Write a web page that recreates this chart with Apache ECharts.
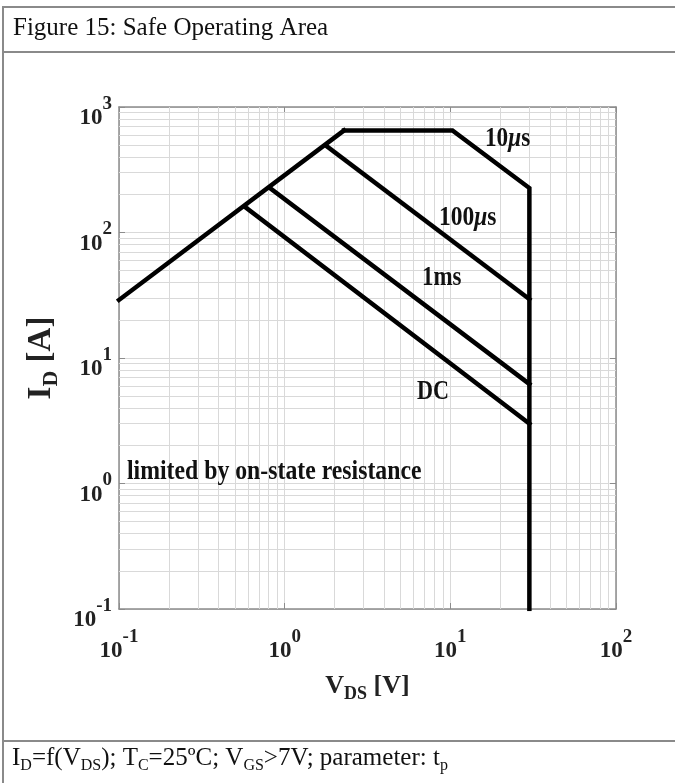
<!DOCTYPE html>
<html>
<head>
<meta charset="utf-8">
<title>Figure 15: Safe Operating Area</title>
<script src="https://cdn.jsdelivr.net/npm/echarts@6.0.0/dist/echarts.min.js"></script>
<style>
  html, body { margin: 0; padding: 0; background: #fff; }
  #chart { width: 675px; height: 783px; }
</style>
</head>
<body>
<div id="chart"></div>
<script>
// Drain current limits, [V_DS (V), I_D (A)]
const rdsOnLimit = [[0.1, 29], [2.28, 650]];
const tp10us = [[2.28, 650], [10.3, 650], [30, 226], [30, 0.1]];
const tp100us = [[1.78, 490], [30, 29.4]];
const tp1ms = [[0.815, 226], [30, 6.2]];
const tpDC = [[0.575, 160], [30, 3.0]];

// Axis ranges (decades)
const xRange = [0.1, 100];
const yRange = [0.1, 1000];

// Minor log grid multipliers
const minorSteps = [2, 3, 4, 5, 6, 7, 8, 9];

const FONT = '"Liberation Serif", "Times New Roman", serif';
const GRID_COLOR = '#d9d9d9';
const FRAME_COLOR = '#8c8c8c';

function minorValues(lo, hi) {
  const out = [];
  for (let d = lo; d < hi; d *= 10) {
    minorSteps.forEach(m => out.push(+(d * m).toPrecision(6)));
  }
  return out;
}

function powerLabel(v) {
  const e = Math.round(Math.log10(v));
  return '{b|10}{s|' + e + '}';
}

// Tall line box: "10" hugs the bottom, the exponent sits in the middle
const TICK_LINE = 52;
const tickRich = {
  b: { fontFamily: FONT, fontWeight: 'bold', fontSize: 23, color: '#222', lineHeight: TICK_LINE, verticalAlign: 'bottom' },
  s: { fontFamily: FONT, fontWeight: 'bold', fontSize: 19, color: '#222', lineHeight: TICK_LINE, verticalAlign: 'middle' }
};

function nameRich(size, subSize) {
  return {
    m: { fontFamily: FONT, fontWeight: 'bold', fontSize: size, color: '#222', lineHeight: size + 8, verticalAlign: 'middle' },
    sub: { fontFamily: FONT, fontWeight: 'bold', fontSize: subSize, color: '#222', lineHeight: size + 8, verticalAlign: 'bottom' }
  };
}

const curveStyle = { color: '#000', width: 4.5, cap: 'square', join: 'miter' };

function curve(name, data) {
  return {
    name: name,
    type: 'line',
    data: data,
    symbol: 'none',
    lineStyle: curveStyle,
    z: 5,
    silent: true,
    animation: false
  };
}

const chart = echarts.init(document.getElementById('chart'), null, { renderer: 'canvas' });

const option = {
  backgroundColor: '#fff',
  animation: false,
  grid: { left: 119, right: 59, top: 107, bottom: 174, outerBoundsMode: 'none', containLabel: false },
  xAxis: [
    {
      type: 'log', logBase: 10, min: xRange[0], max: xRange[1],
      name: '{m|V}{sub|DS}{m| [V]}',
      nameLocation: 'middle', nameGap: 60,
      nameTextStyle: { rich: nameRich(26, 18) },
      axisLine: { lineStyle: { color: FRAME_COLOR, width: 1.5 } },
      axisTick: { inside: true, length: 6, lineStyle: { color: FRAME_COLOR } },
      axisLabel: { formatter: powerLabel, rich: tickRich, margin: 2 },
      splitLine: { show: true, lineStyle: { color: GRID_COLOR, width: 1 } }
    },
    {
      type: 'log', logBase: 10, min: xRange[0], max: xRange[1], position: 'top',
      axisLine: { lineStyle: { color: FRAME_COLOR, width: 1.5 } },
      axisTick: { inside: true, length: 6, lineStyle: { color: FRAME_COLOR } },
      axisLabel: { show: false },
      splitLine: { show: false }
    }
  ],
  yAxis: [
    {
      type: 'log', logBase: 10, min: yRange[0], max: yRange[1],
      name: '{m|I}{sub|D}{m| [A]}',
      nameLocation: 'middle', nameGap: 48, nameRotate: 90,
      nameTextStyle: { rich: nameRich(33, 22) },
      axisLine: { lineStyle: { color: FRAME_COLOR, width: 1.5 } },
      axisTick: { inside: true, length: 6, lineStyle: { color: FRAME_COLOR } },
      axisLabel: { formatter: powerLabel, rich: tickRich, margin: 7, padding: [0, 0, 6, 0] },
      splitLine: { show: true, lineStyle: { color: GRID_COLOR, width: 1 } }
    },
    {
      type: 'log', logBase: 10, min: yRange[0], max: yRange[1], position: 'right',
      axisLine: { lineStyle: { color: FRAME_COLOR, width: 1.5 } },
      axisTick: { inside: true, length: 6, lineStyle: { color: FRAME_COLOR } },
      axisLabel: { show: false },
      splitLine: { show: false }
    }
  ],
  series: [
    {
      name: 'minor grid',
      type: 'line',
      data: [],
      z: 1,
      silent: true,
      markLine: {
        silent: true,
        symbol: ['none', 'none'],
        label: { show: false },
        animation: false,
        lineStyle: { type: 'solid', color: GRID_COLOR, width: 1 },
        emphasis: { disabled: true },
        data: minorValues(xRange[0], xRange[1]).map(v => ({ xAxis: v }))
          .concat(minorValues(yRange[0], yRange[1]).map(v => ({ yAxis: v })))
      }
    },
    curve('RDS(on) limit', rdsOnLimit),
    curve('10µs', tp10us),
    curve('100µs', tp100us),
    curve('1ms', tp1ms),
    curve('DC', tpDC)
  ],
  graphic: [
    // outer frame and caption separators
    { type: 'rect', shape: { x: 3, y: 7, width: 690, height: 790 }, style: { fill: 'none', stroke: '#8a8a8a', lineWidth: 2 }, silent: true, z: 0 },
    { type: 'line', shape: { x1: 3, y1: 52, x2: 675, y2: 52 }, style: { stroke: '#8a8a8a', lineWidth: 2 }, silent: true },
    { type: 'line', shape: { x1: 3, y1: 741, x2: 675, y2: 741 }, style: { stroke: '#8a8a8a', lineWidth: 2 }, silent: true },
    {
      type: 'text', left: 13, top: 16, silent: true,
      style: { text: 'Figure 15: Safe Operating Area', font: '25px ' + FONT, fill: '#111' }
    },
    {
      type: 'text', left: 12, top: 746, silent: true,
      style: {
        text: '{t|I}{u|D}{t|=f(V}{u|DS}{t|); T}{u|C}{t|=25ºC; V}{u|GS}{t|>7V; parameter: t}{u|p}',
        rich: {
          t: { fontFamily: FONT, fontSize: 25, fill: '#111', lineHeight: 30, verticalAlign: 'middle' },
          u: { fontFamily: FONT, fontSize: 16, fill: '#111', lineHeight: 30, verticalAlign: 'bottom' }
        }
      }
    },
    // curve annotations
    {
      type: 'text', x: 485, y: 126, silent: true, z: 10, scaleX: 0.86,
      style: {
        text: '{a|10}{mu|μ}{a|s}',
        rich: {
          a: { fontFamily: FONT, fontWeight: 'bold', fontSize: 27, fill: '#111' },
          mu: { fontFamily: FONT, fontWeight: 'bold', fontStyle: 'italic', fontSize: 27, fill: '#111' }
        }
      }
    },
    {
      type: 'text', x: 439, y: 205, silent: true, z: 10, scaleX: 0.87,
      style: {
        text: '{a|100}{mu|μ}{a|s}',
        rich: {
          a: { fontFamily: FONT, fontWeight: 'bold', fontSize: 27, fill: '#111' },
          mu: { fontFamily: FONT, fontWeight: 'bold', fontStyle: 'italic', fontSize: 27, fill: '#111' }
        }
      }
    },
    {
      type: 'text', x: 422, y: 265, silent: true, z: 10, scaleX: 0.85,
      style: { text: '1ms', font: 'bold 27px ' + FONT, fill: '#111' }
    },
    {
      type: 'text', x: 417, y: 379, silent: true, z: 10, scaleX: 0.82,
      style: { text: 'DC', font: 'bold 27px ' + FONT, fill: '#111' }
    },
    {
      type: 'text', x: 127, y: 459, silent: true, z: 10, scaleX: 0.88,
      style: { text: 'limited by on-state resistance', font: 'bold 27px ' + FONT, fill: '#111' }
    }
  ]
};

chart.setOption(option);
</script>
</body>
</html>
